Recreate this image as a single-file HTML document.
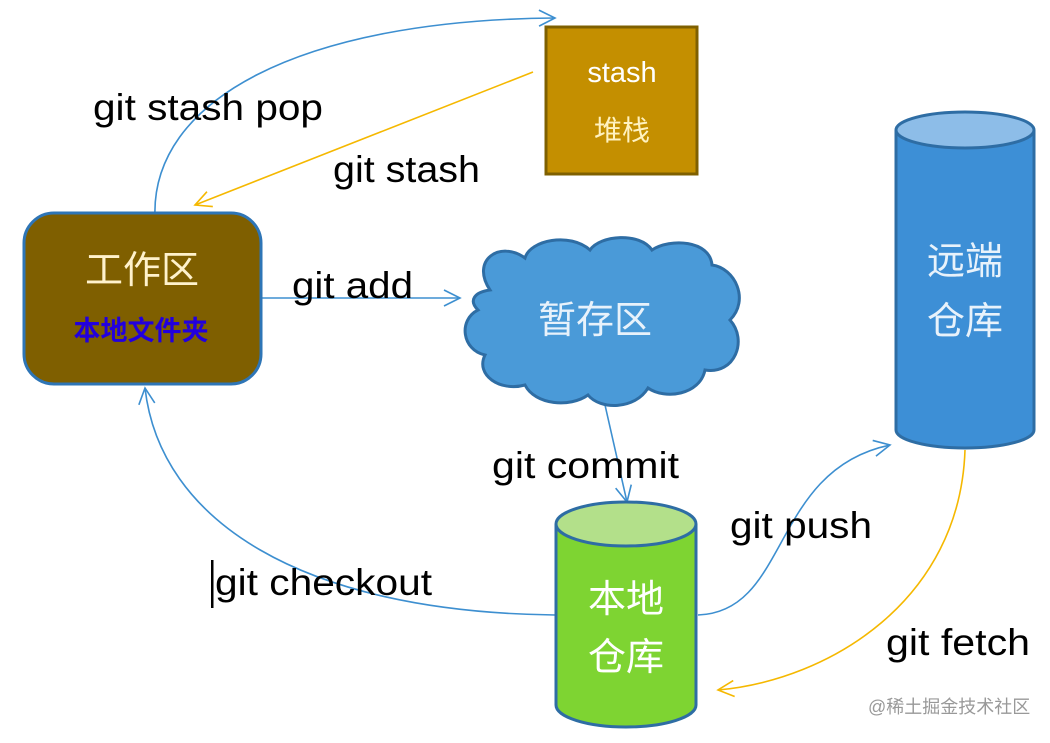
<!DOCTYPE html>
<html><head><meta charset="utf-8"><style>
body{margin:0;background:#fff;width:1050px;height:738px;overflow:hidden}
text{font-family:"Liberation Sans","Noto Sans CJK SC",sans-serif}
</style></head><body>
<svg width="1050" height="738" viewBox="0 0 1050 738" xmlns="http://www.w3.org/2000/svg">
<defs>
<marker id="ab" viewBox="0 0 20 20" refX="18" refY="10" markerWidth="20" markerHeight="20" markerUnits="userSpaceOnUse" orient="auto"><polyline points="2,2 18,10 2,18" fill="none" stroke="#3d8fd0" stroke-width="1.6"/></marker>
<marker id="ay" viewBox="0 0 20 20" refX="18" refY="10" markerWidth="20" markerHeight="20" markerUnits="userSpaceOnUse" orient="auto"><polyline points="2,2 18,10 2,18" fill="none" stroke="#f5b800" stroke-width="1.6"/></marker>
</defs>
<path d="M155,218 C150,100 300,20 555,18" fill="none" stroke="#3d8fd0" stroke-width="1.6" marker-end="url(#ab)"/>
<path d="M533,72 L195,205" fill="none" stroke="#f5b800" stroke-width="1.6" marker-end="url(#ay)"/>
<path d="M261,298 L460,298" fill="none" stroke="#3d8fd0" stroke-width="1.6" marker-end="url(#ab)"/>
<path d="M605,405 L627,502" fill="none" stroke="#3d8fd0" stroke-width="1.6" marker-end="url(#ab)"/>
<path d="M698,615 C790,612 770,470 890,445" fill="none" stroke="#3d8fd0" stroke-width="1.6" marker-end="url(#ab)"/>
<path d="M965,450 C960,600 830,680 718,690" fill="none" stroke="#f5b800" stroke-width="1.6" marker-end="url(#ay)"/>
<path d="M555,615 C300,612 160,520 145,388" fill="none" stroke="#3d8fd0" stroke-width="1.6" marker-end="url(#ab)"/>
<rect x="546" y="27" width="151" height="147" fill="#c48f00" stroke="#7f6000" stroke-width="3"/>
<text x="622" y="82" font-size="29" fill="#fff" text-anchor="middle">stash</text>
<text x="622" y="140" font-size="28" fill="#fff2c0" text-anchor="middle">堆栈</text>
<rect x="24" y="213" width="237" height="171" rx="30" fill="#7f5f00" stroke="#2e75b6" stroke-width="3"/>
<text x="142" y="283" font-size="38" fill="#fff2cc" text-anchor="middle" font-family="Noto Serif CJK SC,serif">工作区</text>
<text x="141" y="340" font-size="27" font-weight="bold" fill="#2200dd" text-anchor="middle">本地文件夹</text>
<path d="M490,290 C470,260 500,240 525,258 C530,240 570,232 590,250 C600,235 640,232 652,250 C670,238 710,240 712,265 C735,268 750,300 730,320 C748,340 735,375 705,370 C700,395 665,400 648,388 C635,410 600,410 588,395 C570,408 535,405 525,385 C500,392 475,375 485,355 C462,350 458,320 478,310 C468,300 475,292 490,290 Z" fill="#4a9ad8" stroke="#2e6da4" stroke-width="3"/>
<text x="595" y="333" font-size="38" fill="#e8f2fb" text-anchor="middle" font-family="Noto Serif CJK SC,serif">暂存区</text>
<path d="M896,130 L896,430 A69,18 0 0 0 1034,430 L1034,130" fill="#3d8fd6" stroke="#2e6da4" stroke-width="3"/>
<ellipse cx="965" cy="130" rx="69" ry="18" fill="#8dbde8" stroke="#2e6da4" stroke-width="3"/>
<text x="965" y="274" font-size="38" fill="#e8f2fb" text-anchor="middle" font-family="Noto Serif CJK SC,serif">远端</text>
<text x="965" y="334" font-size="38" fill="#e8f2fb" text-anchor="middle" font-family="Noto Serif CJK SC,serif">仓库</text>
<path d="M556,524 L556,705 A70,22 0 0 0 696,705 L696,524" fill="#7ed432" stroke="#2e6da4" stroke-width="3"/>
<ellipse cx="626" cy="524" rx="70" ry="22" fill="#b3e08a" stroke="#2e6da4" stroke-width="3"/>
<text x="626" y="612" font-size="38" fill="#fff" text-anchor="middle">本地</text>
<text x="626" y="670" font-size="38" fill="#fff" text-anchor="middle">仓库</text>
<g font-size="37" fill="#000">
<text x="93" y="120" textLength="230" lengthAdjust="spacingAndGlyphs">git stash pop</text>
<text x="333" y="182" textLength="147" lengthAdjust="spacingAndGlyphs">git stash</text>
<text x="292" y="298" textLength="121" lengthAdjust="spacingAndGlyphs">git add</text>
<text x="492" y="478" textLength="187" lengthAdjust="spacingAndGlyphs">git commit</text>
<text x="730" y="538" textLength="142" lengthAdjust="spacingAndGlyphs">git push</text>
<text x="215" y="595" textLength="217" lengthAdjust="spacingAndGlyphs">git checkout</text>
<text x="886" y="655" textLength="144" lengthAdjust="spacingAndGlyphs">git fetch</text>
</g>
<rect x="211" y="560" width="2.5" height="48" fill="#000"/>
<text x="868" y="713" font-size="18" fill="#999">@稀土掘金技术社区</text>
</svg>
</body></html>
